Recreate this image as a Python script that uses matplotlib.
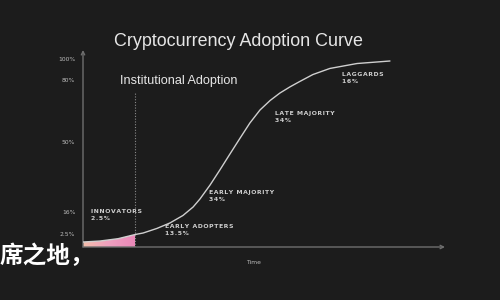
import numpy as np
import matplotlib
matplotlib.use("Agg")
import matplotlib.pyplot as plt
from matplotlib.colors import LinearSegmentedColormap

BG = "#1c1c1c"

# cumulative adoption (%) over time (arbitrary units)
time = [0, 4.7, 9.7, 14.4, 16.6, 20.4, 24.0, 27.6, 30.4, 32.3, 35.1, 37.8, 40.6, 43.4,
        46.1, 48.9, 51.7, 54.4, 57.2, 59.9, 63.5, 68.2, 75.7, 84.8]
adoption = [0.96, 1.15, 1.6, 2.4, 3.1, 5.9, 9.25, 13.85, 18.4, 22.3, 29.1, 36.4, 44.2, 51.9,
            59.2, 65.5, 70.1, 73.7, 76.7, 79.3, 85.2, 91.0, 95.7, 98.1]
innovators_end = 14.4

ytick_vals = [2.5, 16, 50, 80, 100]
ytick_labels = ["2.5%", "16%", "50%", "80%", "100%"]

segments = ["INNOVATORS", "EARLY ADOPTERS", "EARLY MAJORITY", "LATE MAJORITY", "LAGGARDS"]
shares = ["2.5%", "13.5%", "34%", "34%", "16%"]

# the y axis in the picture is not linear: tick percentages sit at these heights
scale_pct = [0, 2.5, 16, 50, 80, 100, 110]
scale_h = [0, 13, 35, 105, 167, 188, 197]

def fwd(v):
    return np.interp(v, scale_pct, scale_h)

def inv(v):
    return np.interp(v, scale_h, scale_pct)

def spaced(s):
    # letter-spaced caps like the original
    return "\u200a".join(s)

fig = plt.figure(figsize=(5, 3), dpi=100, facecolor=BG)
ax = fig.add_axes([83/500, 53/300, 362/500, 197/300])
ax.set_facecolor(BG)
ax.set_yscale("function", functions=(fwd, inv))

for s in ax.spines.values():
    s.set_visible(False)
ax.set_xticks([])
ax.set_yticks(ytick_vals)
ax.set_yticklabels(ytick_labels)
ax.yaxis.set_minor_locator(matplotlib.ticker.NullLocator())
ax.tick_params(axis="y", length=0, pad=5.5, labelsize=4.3, labelcolor="#bdbdbd")

# axis arrows
arrow = dict(arrowstyle="->", color="#6e6e6e", lw=1.0, shrinkA=0, shrinkB=0, mutation_scale=6)
ax.annotate("", xy=(0, 1), xytext=(0, 0), xycoords="axes fraction", arrowprops=arrow)
ax.annotate("", xy=(1, 0), xytext=(0, 0), xycoords="axes fraction", arrowprops=arrow)

# curve
ax.plot(time, adoption, color="#cfcfcf", lw=1.0, solid_capstyle="round",
        solid_joinstyle="round", zorder=3)

# innovators gradient fill
t = np.array(time)
a = np.array(adoption)
m = t <= innovators_end
poly = ax.fill_between(t[m], 0, a[m], color="none")
cmap = LinearSegmentedColormap.from_list("inn", ["#f4bcaa", "#ee9fbf", "#ea88b8"])
img = ax.imshow(np.linspace(0, 1, 100).reshape(1, -1), cmap=cmap, aspect="auto",
                extent=[0, innovators_end, 0, 3], zorder=2)
img.set_clip_path(poly.get_paths()[0], transform=ax.transData)
ax.set_xlim(0, 100)
ax.set_ylim(0, 110)

# institutional adoption marker
ax.plot([innovators_end, innovators_end], [0, 74], color="#8a8a8a", lw=0.8,
        linestyle=(0, (1, 1.5)), zorder=1)

# texts
fig.text(238/500, 1 - 42/300, "Cryptocurrency Adoption Curve", ha="center", va="center",
         fontsize=12.9, color="#e6e6e6", family="Liberation Sans")
fig.text(120/500, 1 - 81/300, "Institutional Adoption", ha="left", va="center",
         fontsize=9.1, color="#e6e6e6", family="Liberation Sans")
fig.text(253/500, 1 - 263/300, "Time", ha="center", va="center",
         fontsize=4.3, color="#bdbdbd")

label_pos = [(91, 209), (165, 224), (209, 190), (275, 111), (342, 72)]
for (px, py), name, share in zip(label_pos, segments, shares):
    fig.text(px/500, 1 - py/300, spaced(name) + "\n" + spaced(share), ha="left", va="top",
             fontsize=4.4, color="#cfcfcf", fontweight="bold", linespacing=1.6)

fig.text(0/500, 1 - 256/300, "席之地，", ha="left", va="center", fontsize=17,
         color="white", fontweight="heavy", family=["Noto Sans CJK SC", "DejaVu Sans"])

fig.savefig("out.png", dpi=100, facecolor=BG)
